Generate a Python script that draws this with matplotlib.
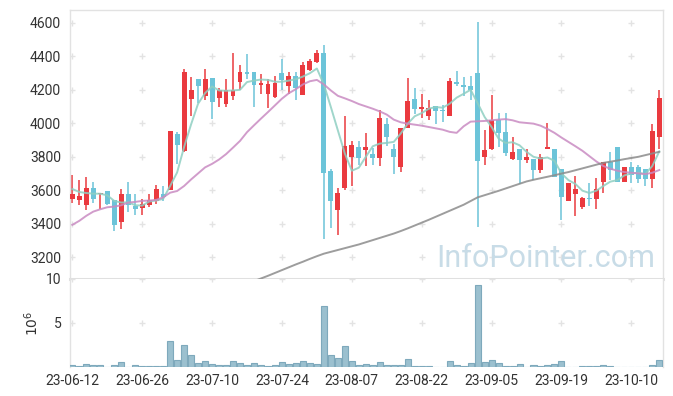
import matplotlib
matplotlib.use("Agg")
from matplotlib import pyplot as plt
from matplotlib.patches import Rectangle

plt.rcParams['font.family'] = ['Roboto', 'DejaVu Sans']

# daily prices (trading days)
opens = [3551, 3545, 3515, 3614, 3578, 3594, 3541, 3412, 3578, 3507,
         3495, 3515, 3539, 3578, 3602, 3935, 3836, 4145, 4267, 4162,
         4273, 4153, 4117, 4162, 4246, 4309, 4309, 4230, 4174, 4157,
         4303, 4222, 4283, 4168, 4321, 4364, 4422, 3713, 3485, 3616,
         3800, 3857, 3838, 3814, 3794, 3994, 3844, 3741, 3974, 4143,
         4083, 4044, 4101, 4081, 4044, 4246, 4226, 4224, 4303, 3800,
         3844, 4018, 3947, 3788, 3844, 3780, 3788, 3721, 3844, 3844,
         3725, 3539, 3578, 3503, 3555, 3551, 3650, 3768, 3857, 3652,
         3741, 3741, 3729, 3669, 3919]
closes = [3580, 3566, 3614, 3551, 3582, 3521, 3396, 3578, 3515, 3491,
          3519, 3543, 3606, 3562, 3953, 3869, 4309, 4196, 4222, 4267,
          4127, 4196, 4200, 4200, 4309, 4293, 4228, 4238, 4232, 4238,
          4261, 4283, 4210, 4345, 4374, 4422, 3701, 3539, 3584, 3863,
          3873, 3790, 3857, 3794, 4030, 3919, 3800, 3970, 4131, 4083,
          4095, 4093, 4071, 4071, 4250, 4234, 4218, 4200, 3776, 3840,
          4018, 3943, 3824, 3828, 3780, 3800, 3721, 3800, 3859, 3681,
          3562, 3646, 3606, 3555, 3547, 3606, 3768, 3721, 3652, 3741,
          3693, 3669, 3669, 3954, 4149]
highs = [3691, 3660, 3677, 3652, 3583, 3594, 3541, 3606, 3648, 3578,
         3547, 3576, 3632, 3626, 3953, 3947, 4325, 4279, 4267, 4325,
         4273, 4210, 4265, 4420, 4345, 4414, 4309, 4295, 4265, 4281,
         4384, 4309, 4309, 4364, 4384, 4440, 4469, 3729, 3616, 4046,
         3895, 3895, 3943, 3854, 4077, 4034, 3879, 3970, 4271, 4212,
         4176, 4141, 4101, 4107, 4269, 4311, 4279, 4281, 4602, 3958,
         4170, 4063, 4059, 3919, 3844, 3848, 3788, 3816, 4002, 3844,
         3725, 3646, 3685, 3562, 3642, 3671, 3768, 3830, 3857, 3741,
         3770, 3751, 3729, 3998, 4196]
lows = [3523, 3513, 3483, 3523, 3487, 3511, 3359, 3372, 3471, 3452,
        3452, 3501, 3517, 3535, 3602, 3757, 3830, 4042, 4121, 4141,
        4026, 4099, 4097, 4141, 4200, 4265, 4097, 4176, 4093, 4153,
        4196, 4176, 4137, 4168, 4315, 4358, 3309, 3374, 3331, 3602,
        3626, 3750, 3744, 3750, 3744, 3863, 3695, 3711, 3974, 4054,
        4034, 4018, 3994, 4008, 4044, 4224, 4162, 4141, 3384, 3750,
        3840, 3856, 3804, 3780, 3638, 3764, 3661, 3701, 3844, 3681,
        3420, 3539, 3444, 3487, 3507, 3491, 3586, 3661, 3652, 3652,
        3642, 3642, 3626, 3614, 3844]

# volume, millions
volume = [0.27, 0.15, 0.38, 0.19, 0.27, 0.04, 0.19, 0.62, 0.04, 0.19,
          0.08, 0.08, 0.15, 0.08, 2.92, 0.85, 2.46, 1.31, 0.50, 0.73,
          0.38, 0.19, 0.27, 0.73, 0.50, 0.27, 0.50, 0.27, 0.15, 0.27,
          0.62, 0.38, 0.50, 0.73, 0.50, 0.38, 6.96, 1.31, 1.08, 2.38,
          0.73, 0.27, 0.38, 0.19, 0.62, 0.27, 0.27, 0.27, 0.96, 0.15,
          0.15, 0.15, 0.04, 0.04, 0.73, 0.27, 0.15, 0.50, 9.27, 0.62,
          0.85, 0.50, 0.15, 0.15, 0.38, 0.04, 0.27, 0.15, 0.27, 0.38,
          0.73, 0.04, 0.04, 0.15, 0.15, 0.15, 0.27, 0.15, 0.04, 0.04,
          0.04, 0.04, 0.04, 0.27, 0.85]

# moving averages
ma5 = [3608, 3590, 3584, 3580, 3580, 3570, 3537, 3527, 3529, 3511,
       3509, 3533, 3539, 3549, 3626, 3707, 3859, 3994, 4117, 4180,
       4220, 4196, 4194, 4196, 4200, 4246, 4255, 4261, 4259, 4248,
       4248, 4255, 4263, 4279, 4299, 4327, 4232, 4097, 3958, 3820,
       3717, 3735, 3800, 3863, 3879, 3883, 3889, 3939, 3998, 4042,
       4061, 4087, 4097, 4093, 4117, 4153, 4176, 4200, 4121, 4038,
       3978, 3909, 3883, 3887, 3869, 3830, 3800, 3790, 3796, 3776,
       3701, 3661, 3638, 3598, 3584, 3598, 3626, 3652, 3661, 3689,
       3701, 3705, 3697, 3745, 3832]
ma20 = [3394, 3418, 3448, 3473, 3487, 3499, 3503, 3511, 3527, 3531,
        3537, 3539, 3543, 3558, 3586, 3596, 3626, 3665, 3701, 3737,
        3758, 3784, 3816, 3855, 3895, 3947, 3988, 4028, 4067, 4107,
        4147, 4180, 4204, 4232, 4251, 4259, 4232, 4196, 4164, 4149,
        4133, 4115, 4101, 4087, 4071, 4052, 4022, 4006, 3998, 3992,
        3986, 3978, 3970, 3962, 3949, 3943, 3982, 4010, 4012, 4014,
        4018, 4022, 4025, 4018, 4006, 4002, 3998, 3986, 3966, 3943,
        3915, 3889, 3863, 3836, 3804, 3772, 3745, 3729, 3717, 3709,
        3705, 3701, 3697, 3705, 3721]
ma60_start = 26
ma60 = [3058, 3074, 3090, 3107, 3124, 3141, 3158, 3174, 3191, 3207,
        3222, 3233, 3244, 3255, 3266, 3277, 3290, 3303, 3316, 3329,
        3342, 3357, 3373, 3390, 3407, 3424, 3442, 3460, 3478, 3496,
        3514, 3536, 3558, 3571, 3584, 3597, 3611, 3625, 3639, 3653,
        3663, 3672, 3681, 3690, 3700, 3709, 3720, 3731, 3742, 3753,
        3764, 3771, 3778, 3786, 3793, 3800, 3810, 3820, 3830]

date_labels = ['23-06-12', '23-06-26', '23-07-10', '23-07-24', '23-08-07',
               '23-08-22', '23-09-05', '23-09-19', '23-10-10']
price_ticks = [3200, 3400, 3600, 3800, 4000, 4200, 4400, 4600]

up_col = '#ea3a3f'
down_col = '#6cc4d9'
grid_col = '#e3e3e3'
n = len(closes)
xs = list(range(n))
xticks = list(range(0, n, 10))

fig = plt.figure(figsize=(6.73, 3.96), dpi=100)
ax1 = fig.add_axes([0.1033, 0.2955, 0.8815, 0.6792])
ax2 = fig.add_axes([0.1033, 0.0732, 0.8815, 0.2223], sharex=ax1)

# candles
for i in xs:
    o, c, h, l = opens[i], closes[i], highs[i], lows[i]
    col = up_col if c >= o else down_col
    ax1.plot([i, i], [l, h], color=col, lw=1.1, zorder=2, solid_capstyle='butt')
    bot = min(o, c)
    hgt = max(abs(c - o), 6)
    ax1.add_patch(Rectangle((i - 0.35, bot), 0.7, hgt, facecolor=col,
                            edgecolor='none', zorder=3))

ax1.plot(xs, ma5, color='#8fcfc2', lw=1.4, alpha=0.85, zorder=4)
ax1.plot(xs, ma20, color='#c98bc2', lw=1.4, alpha=0.85, zorder=4)
ax1.plot(xs[ma60_start:], ma60, color='#8c8c8c', lw=1.4, alpha=0.85, zorder=4)

ax1.text(0.803, 0.045, 'InfoPointer.com', transform=ax1.transAxes,
         ha='center', va='baseline', fontsize=22, color='#c8dce7', zorder=1)

ax1.set_xlim(-0.4, 84.5)
ax1.set_ylim(3071, 4676)
ax1.set_yticks(price_ticks)

# volume
ax2.bar(xs, volume, width=0.86, color='#9bc0cf', edgecolor='#7ea9bc',
        linewidth=0.8, zorder=3)
ax2.set_ylim(0, 10)
ax2.set_yticks([5, 10])
ax2.set_xticks(xticks)
ax2.set_xticklabels(date_labels)
fig.text(32 / 673, 1 - 323 / 396, r'$10^6$', rotation=90, ha='center',
         va='center', fontsize=10, color='#333333')

# '+' grid marks at tick crossings
for ax, yt in ((ax1, price_ticks), (ax2, [5, 10])):
    gx = [x for x in xticks for _ in yt]
    gy = [y for _ in xticks for y in yt]
    ax.scatter(gx, gy, marker='+', s=18, color=grid_col, linewidths=1,
               zorder=0, clip_on=True)
    ax.tick_params(length=0, labelsize=10, labelcolor='#333333', pad=6)
    for s in ax.spines.values():
        s.set_color('#e2e2e2')
        s.set_linewidth(1)

ax1.spines['bottom'].set_linewidth(2.2)
ax1.spines['bottom'].set_color('#e0e0e0')
ax2.spines['top'].set_visible(False)
ax2.spines['bottom'].set_visible(False)
plt.setp(ax1.get_xticklabels(), visible=False)
ax2.tick_params(axis='x', pad=5)

fig.savefig('out.png', dpi=100)
